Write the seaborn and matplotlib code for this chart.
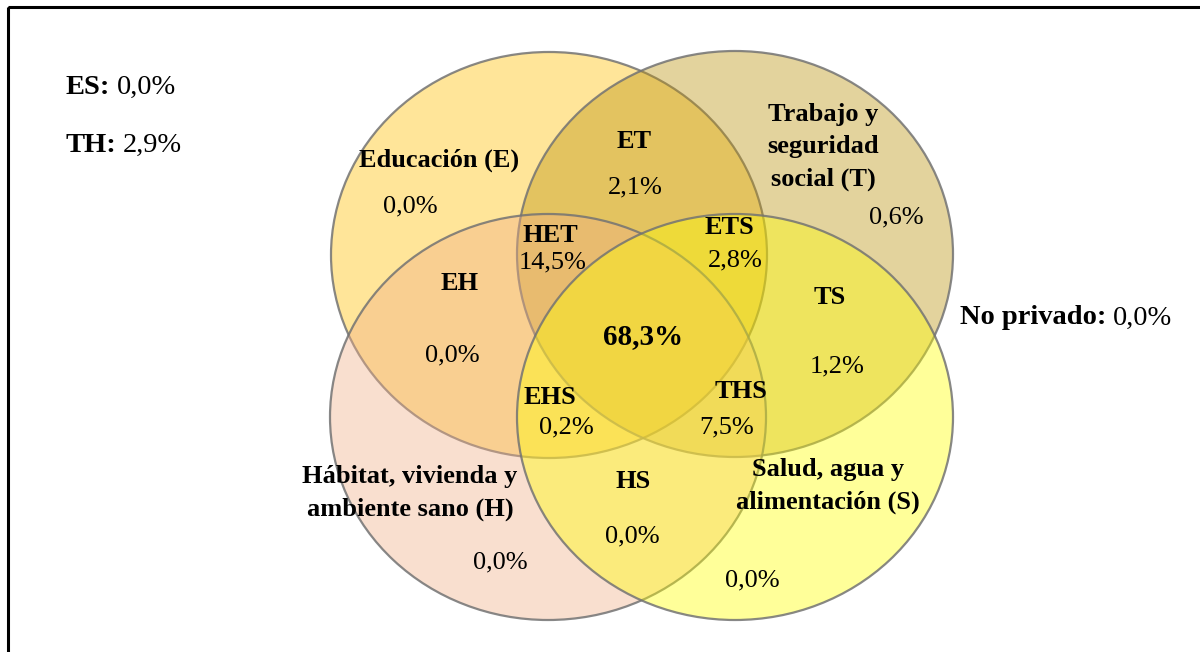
"""Four-set Venn diagram of privation dimensions (E, T, H, S)."""

import matplotlib.pyplot as plt
import seaborn as sns
from matplotlib.patches import Ellipse, Rectangle

# --- data -------------------------------------------------------------------
set_names = ["Educación (E)", "Trabajo y\nseguridad\nsocial (T)",
             "Hábitat, vivienda y\nambiente sano (H)", "Salud, agua y\nalimentación (S)"]
set_colors = ["#FFC000", "#BB910C", "#F2AF87", "#FFFF00"]

region_codes = ["", "ET", "", "HET", "ETS", "EH", "TS", "",
                "EHS", "THS", "", "HS", ""]
region_values = ["0,0%", "2,1%", "0,6%", "14,5%", "2,8%", "0,0%", "1,2%", "68,3%",
                 "0,2%", "7,5%", "0,0%", "0,0%", "0,0%"]

outside_codes = ["ES:", "TH:", "No privado:"]
outside_values = ["0,0%", "2,9%", "0,0%"]

# --- layout (pixel space, y downwards) --------------------------------------
ellipse_centers = [(549, 255), (735, 254), (548, 417), (735, 417)]
ellipse_w, ellipse_h = 436, 406
set_label_pos = [(439, 160), (823, 147), (410, 493), (828, 486)]
code_pos = [None, (634, 141), None, (550, 236), (729, 227), (460, 283), (830, 297),
            None, (550, 397), (741, 392), None, (633, 481), None]
value_pos = [(410, 206), (635, 187), (896, 217), (553, 262), (735, 260), (452, 355),
             (837, 366), (643, 337), (566, 427), (727, 427), (500, 562), (632, 536),
             (752, 580)]
outside_pos = [(65, 87), (65, 145), (960, 318)]

sns.set_theme(style="white")
plt.rcParams["font.family"] = ["Liberation Serif", "DejaVu Serif"]
plt.rcParams["text.color"] = "black"
FS = 19
FS_OUT = 20.5

fig = plt.figure(figsize=(12, 6.52), dpi=100)
ax = fig.add_axes([0, 0, 1, 1])
ax.set_xlim(0, 1200)
ax.set_ylim(652, 0)
ax.axis("off")

# outer frame (only the top and left edges fall inside the picture)
ax.add_patch(Rectangle((8, 7), 1300, 800, fill=False, edgecolor="black", lw=2.2))

for (cx, cy), col in zip(ellipse_centers, set_colors):
    face = sns.desaturate(col, 1.0)
    ax.add_patch(Ellipse((cx, cy), ellipse_w, ellipse_h,
                         facecolor=(*face, 0.4), edgecolor=(0.45, 0.45, 0.45, 0.85),
                         lw=1.6))

for name, (x, y) in zip(set_names, set_label_pos):
    ax.text(x, y, name, ha="center", va="center", fontsize=FS, fontweight="bold",
            multialignment="center", linespacing=1.5)

for code, val, cp, vp in zip(region_codes, region_values, code_pos, value_pos):
    if code:
        ax.text(*cp, code, ha="center", va="center", fontsize=FS, fontweight="bold")
    bold = val == "68,3%"
    ax.text(*vp, val, ha="center", va="center", fontsize=21 if bold else FS,
            fontweight="bold" if bold else "normal")

renderer = fig.canvas.get_renderer()
for code, val, (x, y) in zip(outside_codes, outside_values, outside_pos):
    t = ax.text(x, y, code, ha="left", va="center", fontsize=FS_OUT, fontweight="bold")
    bb = t.get_window_extent(renderer).transformed(ax.transData.inverted())
    ax.text(max(bb.x0, bb.x1) + 7, y, val, ha="left", va="center", fontsize=FS_OUT)

fig.savefig("out.png", dpi=100)
